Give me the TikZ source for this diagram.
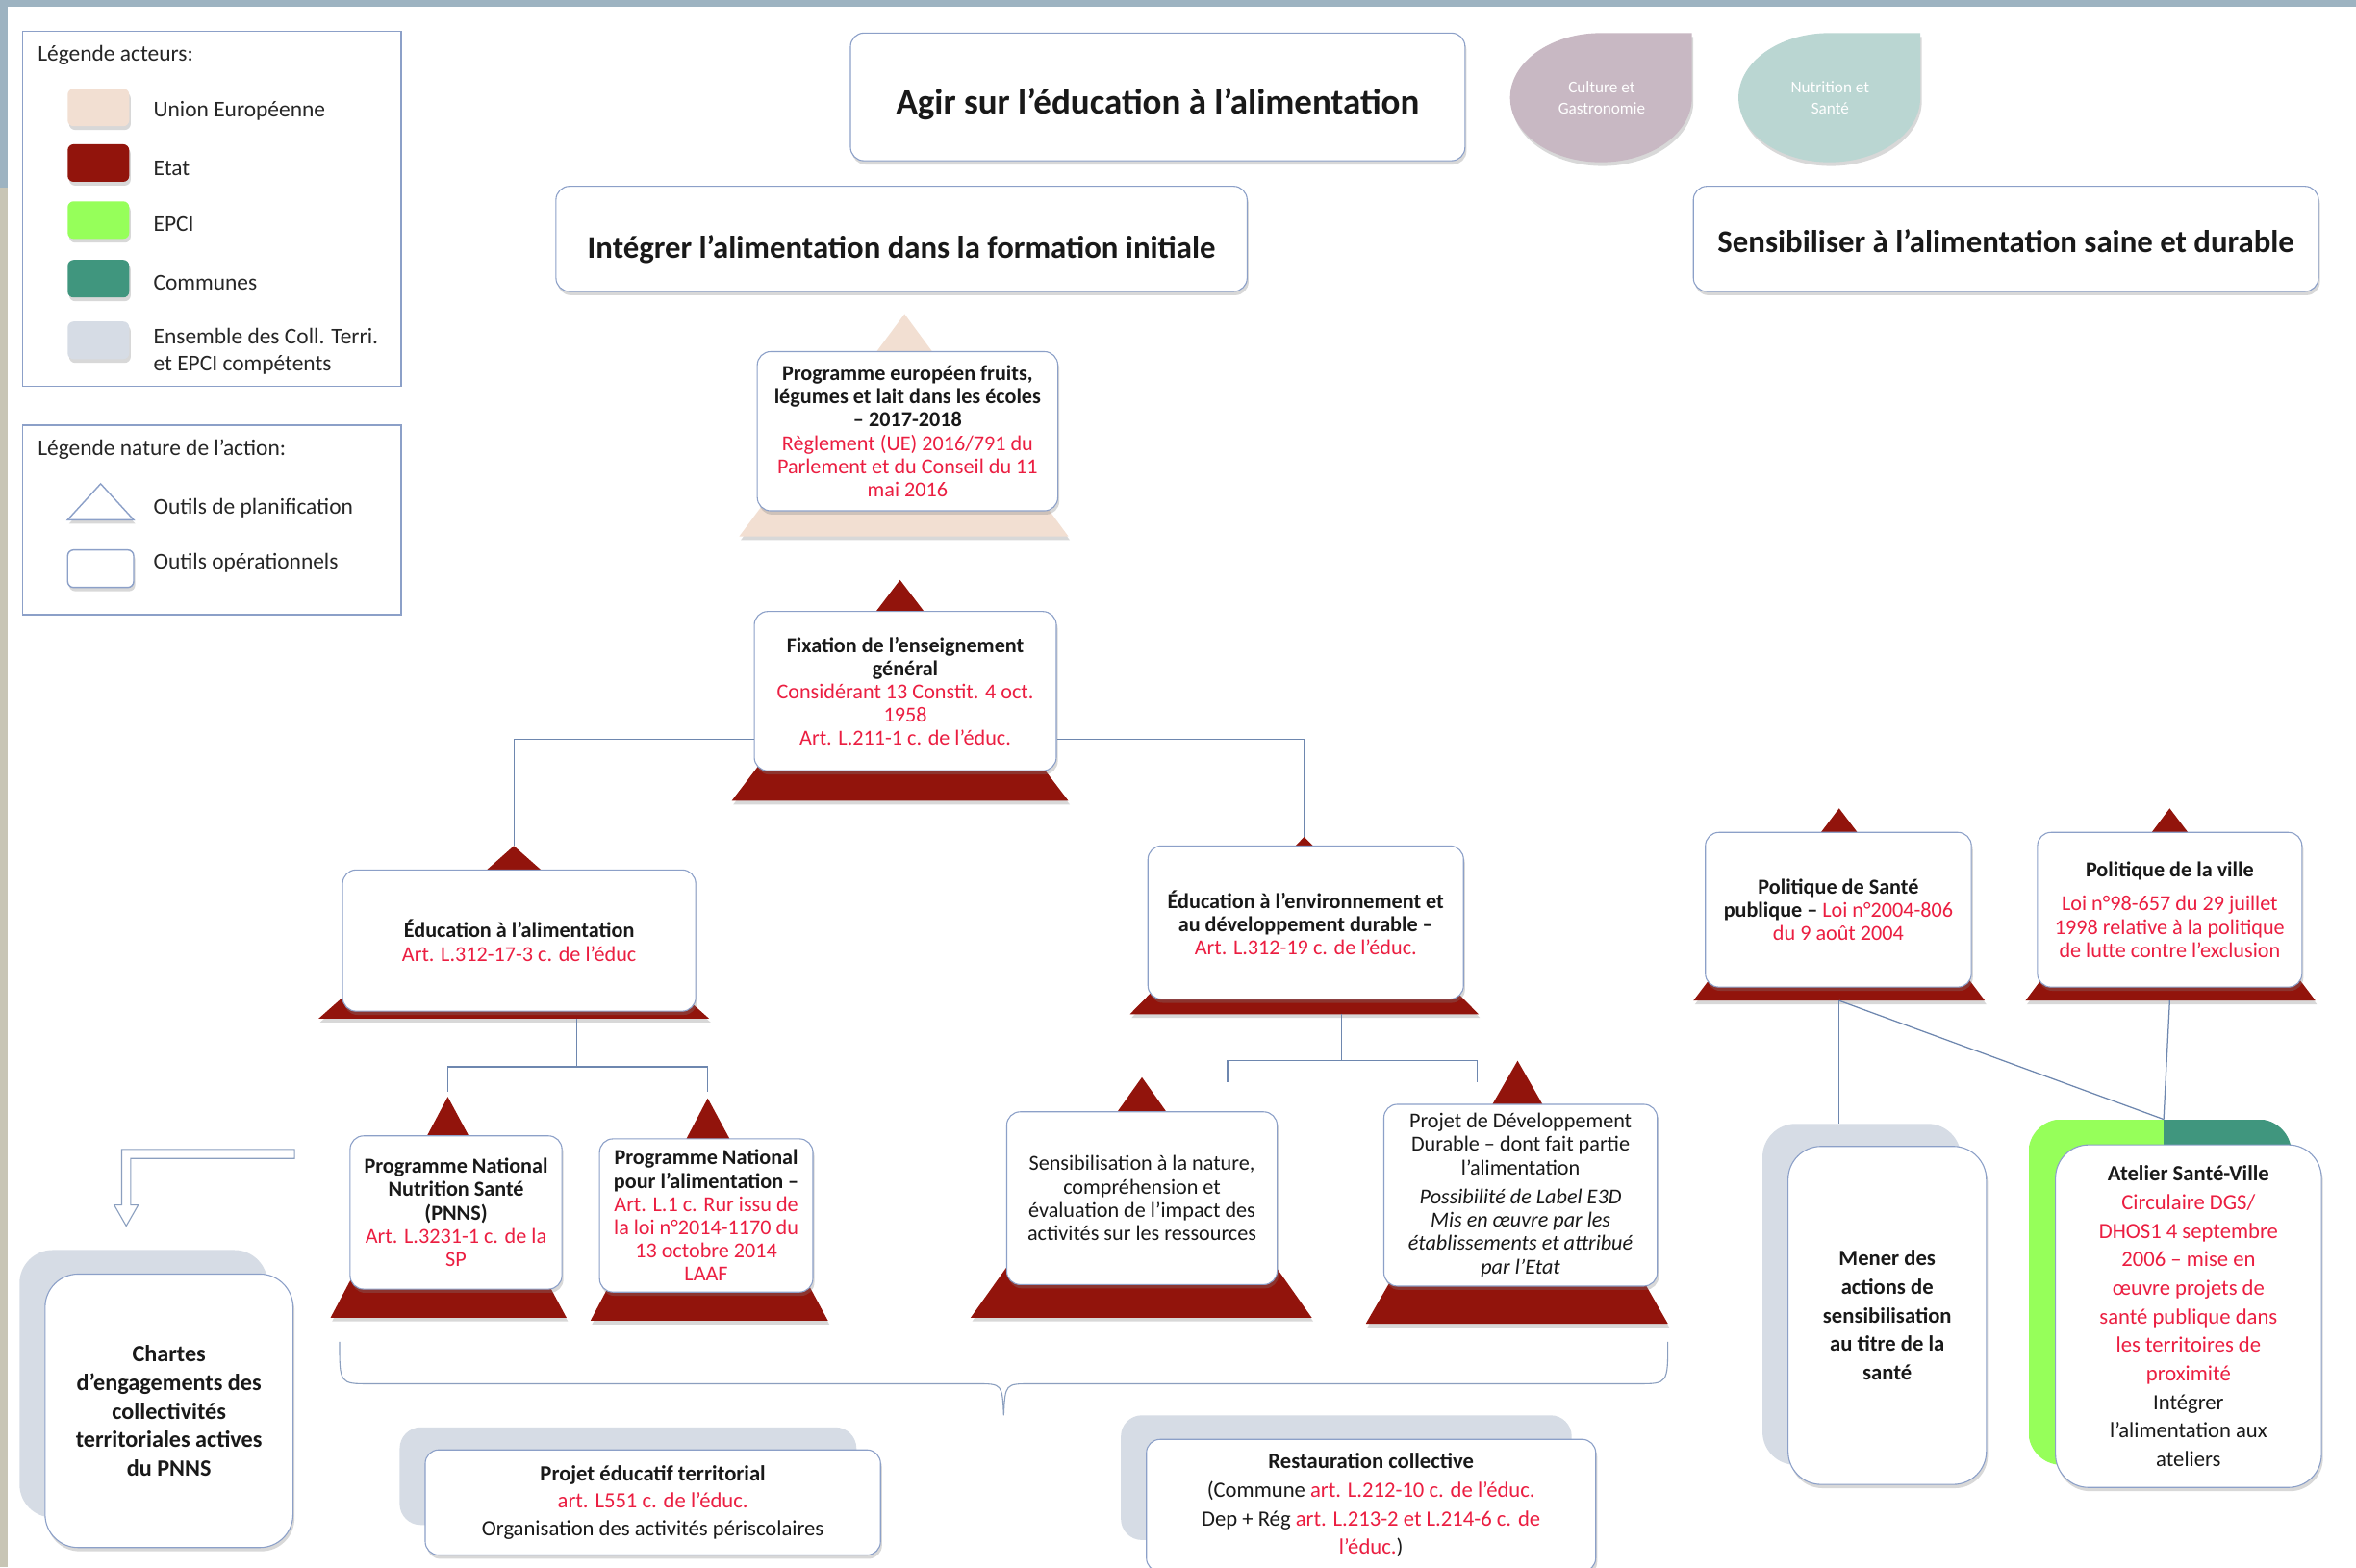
\documentclass[tikz,border=0pt]{standalone}
\usepackage{fontspec}
\setmainfont{Carlito}
\usetikzlibrary{shadows}
\definecolor{etatRed}{RGB}{146,20,12}
\definecolor{uePeach}{RGB}{242,223,210}
\definecolor{epciGreen}{RGB}{150,255,90}
\definecolor{communesTeal}{RGB}{64,150,126}
\definecolor{ensembleGrey}{RGB}{214,220,229}
\definecolor{boxBlue}{RGB}{140,160,200}
\definecolor{linkBlue}{RGB}{110,135,175}
\definecolor{loiRed}{RGB}{235,30,65}
\definecolor{cultureMauve}{RGB}{200,184,195}
\definecolor{nutritionSage}{RGB}{186,214,210}
\definecolor{stripBlue}{RGB}{157,179,193}
\definecolor{stripBeige}{RGB}{200,197,181}

\begin{document}
\begin{tikzpicture}[x=1pt, y=-1pt,
    link/.style={draw=linkBlue, line width=0.8pt},
    softshadow/.style={drop shadow={shadow xshift=1pt, shadow yshift=-2.5pt, opacity=.3}},
    opbox/.style={draw=boxBlue, line width=0.7pt, fill=white, rounded corners=9pt,
      align=center, inner sep=3pt, text=black!90, softshadow},
    titlebox/.style={opbox, font=\fontsize{21}{25}\selectfont\bfseries},
    lawtext/.style={font=\fontsize{14.2}{15.5}\selectfont},
    bigtext/.style={font=\fontsize{14.5}{19}\selectfont},
    legendtext/.style={anchor=west, align=left, inner xsep=0pt, font=\fontsize{15}{18}\selectfont, text=black!85},
    swatch/.style={rounded corners=4pt, softshadow},
    collpanel/.style={fill=ensembleGrey, rounded corners=22pt},
  ]
  \useasboundingbox (0,0) rectangle (1568,1043);
  \fill[white] (0,0) rectangle (1568,1043);
  \fill[stripBlue] (0,0) rectangle (1568,4.5);
  \fill[stripBlue] (0,0) rectangle (5,125);
  \fill[stripBeige] (0,125) rectangle (5,1043);

  % legends
  \draw[boxBlue, line width=0.9pt] (15,21) rectangle (267,257);
  \node[legendtext] at (25,37) {Légende acteurs:};
  \foreach \c/\y in {uePeach/59, etatRed/96, epciGreen/134, communesTeal/173, ensembleGrey/214}
    \fill[\c, swatch] (45,\y) rectangle ++(41,25);
  \node[legendtext] at (102,74) {Union Européenne};
  \node[legendtext] at (102,112) {Etat};
  \node[legendtext] at (102,149) {EPCI};
  \node[legendtext] at (102,188) {Communes};
  \node[legendtext] at (102,234) {Ensemble des Coll. Terri.\\et EPCI compétents};

  \draw[boxBlue, line width=0.9pt] (15,283) rectangle (267,409);
  \node[legendtext] at (25,299) {Légende nature de l’action:};
  \draw[boxBlue, line width=0.9pt, fill=white, softshadow] (67,322) -- (45,346) -- (89,346) -- cycle;
  \draw[boxBlue, line width=0.9pt, fill=white, rounded corners=4pt, softshadow] (45,366) rectangle (89,391);
  \node[legendtext] at (102,338) {Outils de planification};
  \node[legendtext] at (102,375) {Outils opérationnels};

  % themes
  \fill[cultureMauve, softshadow] (1126,22) -- (1126,65)
    arc[start angle=0, end angle=270, x radius=60.5, y radius=43] -- cycle;
  \fill[nutritionSage, softshadow] (1278,22) -- (1278,65)
    arc[start angle=0, end angle=270, x radius=60.5, y radius=43] -- cycle;
  \node[text=white, align=center, font=\fontsize{11}{14}\selectfont] (culture) at (1066,65) {Culture et\\Gastronomie};
  \node[text=white, align=center, font=\fontsize{11}{14}\selectfont] (nutrition) at (1218,65) {Nutrition et\\Santé};

  % planning tools
  \fill[uePeach, softshadow] (602,209) coordinate (T-ue) -- (492,357) -- (711,357) -- cycle;
  \foreach \name/\ax/\ay/\by/\lx/\rx in {fix/599/386/533/487/711, alim/342/563/678/212/472,
      env/868/557/675/752/984, pnns/298/730/877/220/377, pna/471/731/879/393/551,
      nature/760/717/877/646/873, pdd/1010/706/881/909/1110,
      sante/1224/538/666/1127/1321, ville/1444/538/666/1348/1541}
    \fill[etatRed, softshadow] (\ax,\ay) coordinate (T-\name) -- (\lx,\by) -- (\rx,\by) -- cycle;

  % actor panels
  \node[collpanel, minimum width=132pt, minimum height=227pt] (menerPanel) at (1239,861.5) {};
  \begin{scope}
    \clip[rounded corners=22pt] (1350,745) rectangle (1525,975);
    \fill[epciGreen] (1350,745) rectangle (1440,975);
    \fill[communesTeal] (1440,745) rectangle (1525,975);
  \end{scope}
  \coordinate (atelierTop) at (1440,745);
  \node[collpanel, minimum width=165pt, minimum height=178pt] (chartesPanel) at (95.5,921) {};
  \node[collpanel, rounded corners=14pt, minimum width=304pt, minimum height=65pt] (pedtPanel) at (418,982.5) {};
  \node[collpanel, rounded corners=14pt, minimum width=300pt, minimum height=83pt] (restoPanel) at (896,983.5) {};

  % titles
  \node[titlebox, font=\fontsize{23.7}{27}\selectfont\bfseries, text height=29pt, text depth=6pt,
    minimum width=409pt, minimum height=85pt] (agir) at (770.5,64.5)
    {Agir sur l’éducation à l’alimentation};
  \node[titlebox, text height=31pt, text depth=5pt, minimum width=460pt, minimum height=70pt] (integrer) at (600,159)
    {Intégrer l’alimentation dans la formation initiale};
  \node[titlebox, text height=23pt, text depth=5pt, minimum width=416pt, minimum height=70pt] (sensib) at (1335,159)
    {Sensibiliser à l’alimentation saine et durable};

  % formation initiale
  \node[opbox, lawtext, minimum width=200pt, minimum height=106pt] (progUE) at (604,287)
    {\textbf{Programme européen fruits,}\\ \textbf{légumes et lait dans les écoles}\\ \textbf{– 2017-2018}\\
     \textcolor{loiRed}{Règlement (UE) 2016/791 du}\\ \textcolor{loiRed}{Parlement et du Conseil du 11}\\
     \textcolor{loiRed}{mai 2016}};
  \node[opbox, lawtext, minimum width=201pt, minimum height=106pt] (fix) at (602.5,460)
    {\textbf{Fixation de l’enseignement}\\ \textbf{général}\\
     \textcolor{loiRed}{Considérant 13 Constit. 4 oct.}\\ \textcolor{loiRed}{1958}\\
     \textcolor{loiRed}{Art. L.211-1 c. de l’éduc.}};
  \node[opbox, lawtext, minimum width=235pt, minimum height=94pt] (alim) at (345.5,626)
    {\textbf{Éducation à l’alimentation}\\ \textcolor{loiRed}{Art. L.312-17-3 c. de l’éduc}};
  \node[opbox, lawtext, minimum width=210pt, minimum height=102pt] (env) at (869,614)
    {\textbf{Éducation à l’environnement et}\\ \textbf{au développement durable –}\\
     \textcolor{loiRed}{Art. L.312-19 c. de l’éduc.}};
  \node[opbox, lawtext, minimum width=141pt, minimum height=102pt] (pnns) at (303.5,807)
    {\textbf{Programme National}\\ \textbf{Nutrition Santé}\\ \textbf{(PNNS)}\\
     \textcolor{loiRed}{Art. L.3231-1 c. de la}\\ \textcolor{loiRed}{SP}};
  \node[opbox, lawtext, minimum width=142pt, minimum height=102pt] (pna) at (470,809)
    {\textbf{Programme National}\\ \textbf{pour l’alimentation –}\\
     \textcolor{loiRed}{Art. L.1 c. Rur issu de}\\ \textcolor{loiRed}{la loi n°2014-1170 du}\\
     \textcolor{loiRed}{13 octobre 2014}\\ \textcolor{loiRed}{LAAF}};
  \node[opbox, lawtext, minimum width=180pt, minimum height=115pt] (nature) at (760,797.5)
    {Sensibilisation à la nature,\\ compréhension et\\ évaluation de l’impact des\\ activités sur les ressources};
  \node[opbox, lawtext, minimum width=182pt, minimum height=121pt] (pdd) at (1012,795.5)
    {Projet de Développement\\ Durable – dont fait partie\\ l’alimentation\\[4pt]
     \textit{Possibilité de Label E3D}\\ \textit{Mis en œuvre par les}\\
     \textit{établissements et attribué}\\ \textit{par l’Etat}};

  % sensibilisation
  \node[opbox, lawtext, minimum width=177pt, minimum height=103pt] (sante) at (1223.5,605.5)
    {\textbf{Politique de Santé}\\ \textbf{publique –} \textcolor{loiRed}{Loi n°2004-806}\\
     \textcolor{loiRed}{du 9 août 2004}};
  \node[opbox, lawtext, minimum width=176pt, minimum height=103pt] (ville) at (1444,605.5)
    {\textbf{Politique de la ville}\\[7pt] \textcolor{loiRed}{Loi n°98-657 du 29 juillet}\\
     \textcolor{loiRed}{1998 relative à la politique}\\ \textcolor{loiRed}{de lutte contre l’exclusion}};
  \node[opbox, bigtext, rounded corners=22pt, minimum width=132pt, minimum height=225pt] (mener) at (1256,875.5)
    {\textbf{Mener des}\\ \textbf{actions de}\\ \textbf{sensibilisation}\\ \textbf{au titre de la}\\ \textbf{santé}};
  \node[opbox, bigtext, rounded corners=22pt, minimum width=177pt, minimum height=228pt] (atelier) at (1456.5,876)
    {\textbf{Atelier Santé-Ville}\\ \textcolor{loiRed}{Circulaire DGS/}\\ \textcolor{loiRed}{DHOS1 4 septembre}\\
     \textcolor{loiRed}{2006 – mise en}\\ \textcolor{loiRed}{œuvre projets de}\\
     \textcolor{loiRed}{santé publique dans}\\ \textcolor{loiRed}{les territoires de}\\
     \textcolor{loiRed}{proximité}\\ Intégrer\\ l’alimentation aux\\ ateliers};

  % operational tools of local authorities
  \node[opbox, bigtext, font=\fontsize{15.5}{19}\selectfont, rounded corners=22pt, minimum width=165pt, minimum height=182pt] (chartes) at (112.5,939)
    {\textbf{Chartes}\\ \textbf{d’engagements des}\\ \textbf{collectivités}\\ \textbf{territoriales actives}\\ \textbf{du PNNS}};
  \node[opbox, bigtext, font=\fontsize{14.5}{18.5}\selectfont, minimum width=303pt, minimum height=70pt] (pedt) at (434.5,1000)
    {\textbf{Projet éducatif territorial}\\ \textcolor{loiRed}{art. L551 c. de l’éduc.}\\
     Organisation des activités périscolaires};
  \node[opbox, bigtext, minimum width=299pt, minimum height=88pt] (resto) at (912.5,1002)
    {\textbf{Restauration collective}\\ (Commune \textcolor{loiRed}{art. L.212-10 c. de l’éduc.}\\
     Dep + Rég \textcolor{loiRed}{art. L.213-2 et L.214-6 c. de}\\ \textcolor{loiRed}{l’éduc.})};

  % connectors
  \coordinate (alimB) at (384,678);
  \coordinate (alimJ) at (384,710);
  \coordinate (envB) at (893,675);
  \coordinate (envJ) at (893,706);
  \coordinate (envL) at (817,720);
  \coordinate (envR) at (983,720);
  \coordinate (santeB) at (1224,666);
  \coordinate (villeB) at (1444,666);
  \draw[link] ([yshift=-32pt]fix.west) -| (T-alim);
  \draw[link] ([yshift=-32pt]fix.east) -| (T-env);
  \draw[link] (alimB) -- (alimJ);
  \draw[link] (alimJ) -| ([yshift=3pt]T-pnns);
  \draw[link] (alimJ) -| ([yshift=4pt]T-pna);
  \draw[link] (envB) -- (envJ);
  \draw[link] (envJ) -| (envL);
  \draw[link] (envJ) -| (envR);
  \draw[link] (santeB) -- (santeB |- menerPanel.north);
  \draw[link] (santeB) -- (atelierTop);
  \draw[link] (villeB) -- (atelierTop);

  % hollow arrow towards the charters
  \draw[linkBlue!80, line width=0.7pt, fill=white] (196,765) -- (81,765) -- (81,802) -- (76,802)
    -- (84,816) -- (92,802) -- (87,802) -- (87,771) -- (196,771) -- cycle;

  % brace over the local authority tools
  \draw[linkBlue!80, line width=0.7pt] (226,893) .. controls (226,921) .. (246,921) -- (650,921)
    .. controls (667,921) .. (668,942) .. controls (669,921) .. (686,921) -- (1090,921)
    .. controls (1110,921) .. (1110,893);
\end{tikzpicture}
\end{document}
